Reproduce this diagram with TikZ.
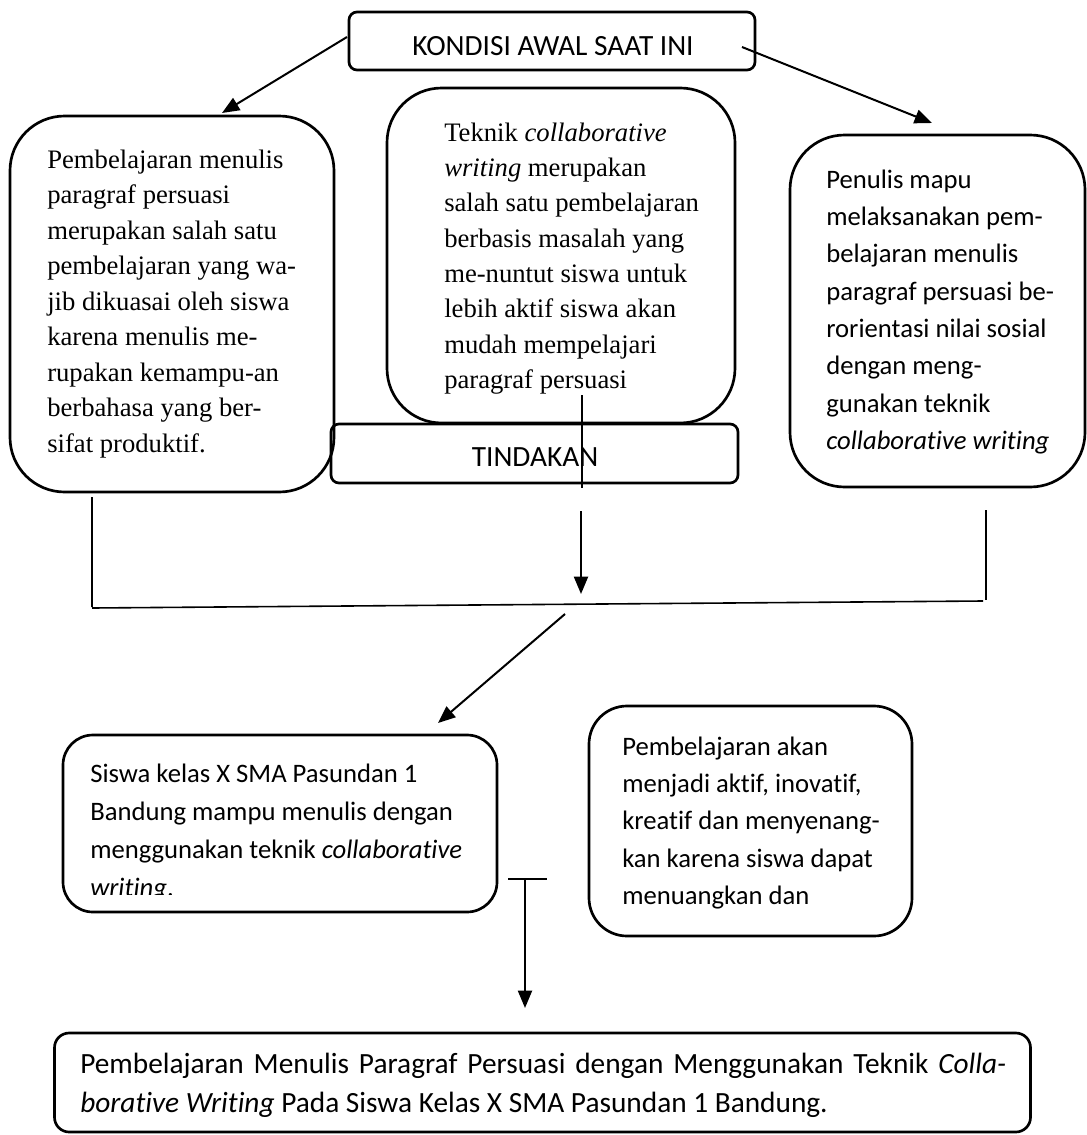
\documentclass[tikz,border=0pt]{standalone}
\usepackage{fontspec}
\setmainfont{Liberation Serif}
\newfontfamily\calfont[Ligatures=NoCommon]{Carlito}
\usetikzlibrary{arrows.meta}
\begin{document}
\begin{tikzpicture}[x=0.75pt,y=-0.75pt,
  rbox/.style={draw, line width=2pt, rounded corners=#1, inner sep=0pt},
  txt/.style={anchor=north west, inner sep=0pt, align=left},
  lbl/.style={inner sep=0pt, font=\calfont\fontsize{22}{26}\selectfont},
  arr/.style={line width=1.5pt, -{Triangle[length=13pt,width=10.5pt]}},
  thin/.style={line width=0.8pt},
  mid/.style={line width=1.2pt}]
\useasboundingbox (0,0) rectangle (1087,1135);
% boxes
\node[rbox=6pt, minimum width=304.5pt, minimum height=43.5pt] (kondisi) at (552,41) {};
\node[lbl] (kondisiT) at (553,46.5) {KONDISI AWAL SAAT INI};
\node[rbox=41pt, minimum width=243pt, minimum height=282pt] (left) at (172,304) {};
\node[rbox=41pt, minimum width=261pt, minimum height=251.25pt] (middle) at (561,255.5) {};
\node[rbox=6pt, minimum width=305.25pt, minimum height=44.25pt] (tind) at (534.5,453.5) {};
\node[lbl] (tindT) at (535,457.5) {TINDAKAN};
\node[rbox=41pt, minimum width=221.25pt, minimum height=264pt] (right) at (937.5,311) {};
\node[rbox=22.5pt, minimum width=325.5pt, minimum height=132.75pt] (siswa) at (280,823.5) {};
\node[rbox=28.5pt, minimum width=242.25pt, minimum height=172.5pt] (akan) at (750.5,821) {};
\node[rbox=11pt, minimum width=732pt, minimum height=74.25pt] (bottom) at (542.5,1082.5) {};
% texts
\node[txt, font=\fontsize{20}{26.6}\selectfont] (leftT) at (47,146.7) {\rule{0pt}{16pt}Pembelajaran menulis\\
paragraf persuasi\\
merupakan salah satu\\
pembelajaran yang wa-\\
jib dikuasai oleh siswa\\
karena menulis me-\\
rupakan kemampu-an\\
berbahasa yang ber-\\
sifat produktif.};
\node[txt, font=\fontsize{20}{26.5}\selectfont] (middleT) at (444,119.7) {\rule{0pt}{16pt}Teknik \textit{collaborative}\\
\textit{writing} merupakan\\
salah satu pembelajaran\\
berbasis masalah yang\\
me-nuntut siswa untuk\\
lebih aktif siswa akan\\
mudah mempelajari\\
paragraf persuasi};
\node[txt, font=\calfont\fontsize{20}{28}\selectfont] (rightT) at (826,166.7) {\rule{0pt}{16pt}Penulis mapu\\
melaksanakan pem-\\
belajaran menulis\\
paragraf persuasi be-\\
rorientasi nilai sosial\\
dengan meng-\\
gunakan teknik\\
\textit{collaborative writing}};
\begin{scope}
\clip (62,730) rectangle (497,894);
\node[txt, font=\calfont\fontsize{20}{28.5}\selectfont] (siswaT) at (90,760.7) {\rule{0pt}{16pt}Siswa kelas X SMA Pasundan 1\\
Bandung mampu menulis dengan\\
menggunakan teknik \textit{collaborative}\\
\textit{writing}.};
\end{scope}
\node[txt, font=\calfont\fontsize{20}{28}\selectfont] (akanT) at (622,733.7) {\rule{0pt}{16pt}Pembelajaran akan\\
menjadi aktif, inovatif,\\
kreatif dan menyenang-\\
kan karena siswa dapat\\
menuangkan dan};
\node[txt, font=\calfont\fontsize{22}{29.3}\selectfont] (bottomT) at (80,1051.7) {\makebox[694.5pt][s]{\rule{0pt}{16pt}Pembelajaran Menulis Paragraf Persuasi dengan Menggunakan Teknik \textit{Colla-}}\\
\textit{borative Writing} Pada Siswa Kelas X SMA Pasundan 1 Bandung.};
% connector points
\coordinate (a1s) at (347,37);
\coordinate (a1e) at (222,113);
\coordinate (a2s) at (742,47);
\coordinate (a2e) at (932,123);
\coordinate (v1s) at (582,395);
\coordinate (v1e) at (582,488);
\coordinate (d1s) at (581,511);
\coordinate (d1e) at (581,594);
\coordinate (lvs) at (92,497);
\coordinate (lve) at (92,607);
\coordinate (rvs) at (986,510);
\coordinate (rve) at (986,600);
\coordinate (hs) at (92,608);
\coordinate (he) at (983,601);
\coordinate (g1s) at (565,614);
\coordinate (g1e) at (438,723);
\coordinate (ts) at (508,879);
\coordinate (te) at (547,879);
\coordinate (b1s) at (525,879);
\coordinate (b1e) at (525,1008);
% connectors
\draw[arr] (a1s) -- (a1e);
\draw[arr] (a2s) -- (a2e);
\draw[thin] (v1s) -- (v1e);
\draw[arr] (d1s) -- (d1e);
\draw[thin] (lvs) -- (lve);
\draw[thin] (rvs) -- (rve);
\draw[mid] (hs) -- (he);
\draw[arr] (g1s) -- (g1e);
\draw[thin] (ts) -- (te);
\draw[arr] (b1s) -- (b1e);
\end{tikzpicture}
\end{document}
